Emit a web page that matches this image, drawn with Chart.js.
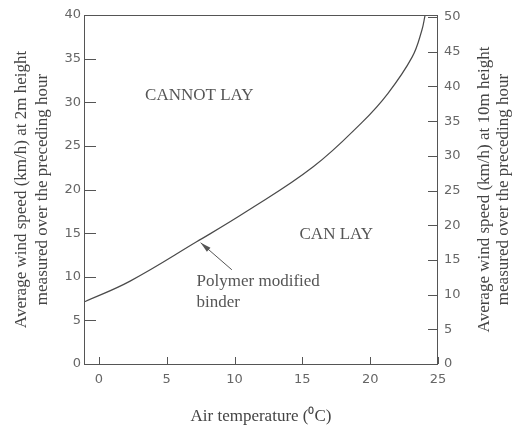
<!DOCTYPE html>
<html>
<head>
<meta charset="utf-8">
<script src="https://cdn.jsdelivr.net/npm/chart.js@4.4.1/dist/chart.umd.min.js"></script>
<style>
  html, body { margin: 0; padding: 0; background: #fff; }
</style>
</head>
<body>
<canvas id="windChart" width="513" height="426"></canvas>
<script>
// Curve: air temperature (degC) vs wind speed at 2m (km/h)
const temperature = [-1.1, 2.3, 7.2, 10.9, 15.8, 19.4, 21.3, 23.1, 23.8, 24.05];
const windSpeed2m = [7.1, 9.5, 14.0, 17.5, 22.6, 27.7, 31.0, 35.2, 38.2, 40];

const xTicks = [0, 5, 10, 15, 20, 25];
const yTicks = [0, 5, 10, 15, 20, 25, 30, 35, 40];
const y2Ticks = [0, 5, 10, 15, 20, 25, 30, 35, 40, 45, 50];

const leftTitle = ['Average wind speed (km/h) at 2m height', 'measured over the preceding hour'];
const rightTitle = ['Average wind speed (km/h) at 10m height', 'measured over the preceding hour'];

const inkColor = '#4a4a4a';
const tickFont = { family: 'DejaVu Sans', size: 13 };
const serif = 'Liberation Serif';

// tick marks point inwards, plus the frame, labels and the arrow
const framePlugin = {
  id: 'framePlugin',
  afterDraw(chart) {
    const { ctx, chartArea: a, scales } = chart;
    ctx.save();
    ctx.strokeStyle = '#555';
    ctx.lineWidth = 1;
    ctx.strokeRect(a.left + 0.5, a.top + 0.5, a.right - a.left - 1, a.bottom - a.top);

    ctx.beginPath();
    xTicks.forEach(v => {
      const px = Math.round(scales.x.getPixelForValue(v)) + 0.5;
      ctx.moveTo(px, a.bottom);
      ctx.lineTo(px, a.bottom - 7);
    });
    yTicks.forEach(v => {
      const py = Math.round(scales.y.getPixelForValue(v)) + 0.5;
      ctx.moveTo(a.left, py);
      ctx.lineTo(a.left + 12, py);
    });
    y2Ticks.forEach(v => {
      const py = Math.round(scales.y2.getPixelForValue(v)) + 0.5;
      ctx.moveTo(a.right, py);
      ctx.lineTo(a.right - 10, py);
    });
    ctx.stroke();

    // region labels
    const X = v => scales.x.getPixelForValue(v);
    const Y = v => scales.y.getPixelForValue(v);
    ctx.fillStyle = '#555';
    ctx.textBaseline = 'middle';
    ctx.font = '17px "' + serif + '"';
    ctx.textAlign = 'center';
    ctx.fillText('CANNOT LAY', X(7.4), Y(30.8));
    ctx.fillText('CAN LAY', X(17.5), Y(14.8));
    ctx.textAlign = 'left';
    ctx.fillText('Polymer modified', X(7.2), Y(9.4));
    ctx.fillText('binder', X(7.2), Y(7.1));

    // arrow to the curve
    const tx = X(7.5), ty = Y(13.9), sx = X(9.8), sy = Y(10.8);
    const ang = Math.atan2(ty - sy, tx - sx);
    ctx.strokeStyle = '#555';
    ctx.beginPath();
    ctx.moveTo(sx, sy);
    ctx.lineTo(tx, ty);
    ctx.stroke();
    ctx.fillStyle = '#555';
    ctx.beginPath();
    ctx.moveTo(tx, ty);
    ctx.lineTo(tx - 11 * Math.cos(ang - 0.25), ty - 11 * Math.sin(ang - 0.25));
    ctx.lineTo(tx - 11 * Math.cos(ang + 0.25), ty - 11 * Math.sin(ang + 0.25));
    ctx.closePath();
    ctx.fill();

    // right axis title, same reading direction as the left one
    const cy = (a.top + a.bottom) / 2;
    ctx.fillStyle = '#444';
    ctx.font = '17px "' + serif + '"';
    ctx.textAlign = 'center';
    [485, 504].forEach((cx, i) => {
      ctx.save();
      ctx.translate(cx, cy);
      ctx.rotate(-Math.PI / 2);
      ctx.fillText(rightTitle[i], 0, 0);
      ctx.restore();
    });
    ctx.restore();
  }
};

const ctx = document.getElementById('windChart').getContext('2d');
const windChart = new Chart(ctx, {
  type: 'line',
  data: {
    datasets: [{
      data: temperature.map((t, i) => ({ x: t, y: windSpeed2m[i] })),
      borderColor: inkColor,
      borderWidth: 1.2,
      pointRadius: 0,
      tension: 0.4,
      yAxisID: 'y'
    }]
  },
  options: {
    responsive: false,
    animation: false,
    layout: { padding: { top: 15, left: 0, right: 0, bottom: 0 } },
    plugins: { legend: { display: false }, tooltip: { enabled: false } },
    scales: {
      x: {
        type: 'linear',
        min: -1.1,
        max: 25,
        afterBuildTicks: s => { s.ticks = xTicks.map(v => ({ value: v })); },
        afterFit: s => { s.height = 62; },
        grid: { display: false, drawTicks: false },
        border: { display: false },
        ticks: { padding: 8, font: tickFont, color: '#666', maxRotation: 0 },
        title: {
          display: true,
          text: 'Air temperature (\u2070C)',
          font: { family: serif, size: 17, lineHeight: 1.1 },
          color: '#444',
          padding: { top: 0, bottom: 0 }
        }
      },
      y: {
        type: 'linear',
        position: 'left',
        min: 0,
        max: 40,
        afterBuildTicks: s => { s.ticks = yTicks.map(v => ({ value: v })); },
        afterFit: s => { s.width = 84; },
        grid: { display: false, drawTicks: false },
        border: { display: false },
        ticks: { padding: 3, font: tickFont, color: '#666' },
        title: {
          display: true,
          text: leftTitle,
          font: { family: serif, size: 17, lineHeight: 1.25 },
          color: '#444',
          padding: { top: 11, bottom: 0 }
        }
      },
      y2: {
        type: 'linear',
        position: 'right',
        min: 0,
        max: 50.3,
        afterBuildTicks: s => { s.ticks = y2Ticks.map(v => ({ value: v })); },
        afterFit: s => { s.width = 75; },
        grid: { display: false, drawTicks: false },
        border: { display: false },
        ticks: { padding: 6, font: tickFont, color: '#666' }
      }
    }
  },
  plugins: [framePlugin]
});
</script>
</body>
</html>
